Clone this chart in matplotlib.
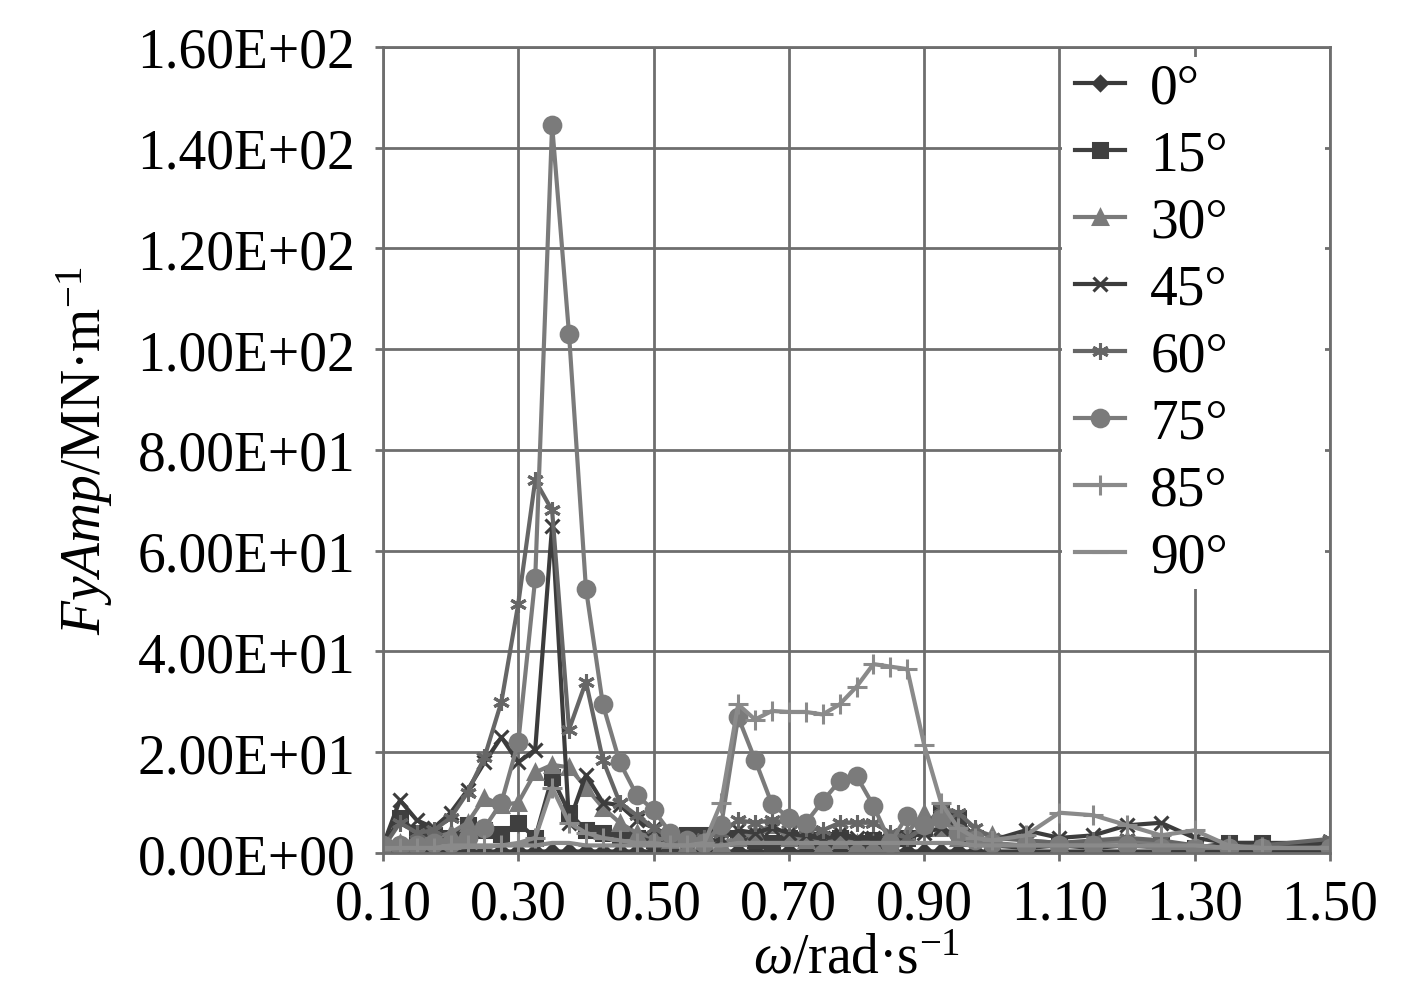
import numpy as np
import matplotlib
matplotlib.use("Agg")
import matplotlib.pyplot as plt
from matplotlib.ticker import FuncFormatter, MultipleLocator, FixedLocator
from matplotlib.patches import Rectangle

plt.rcParams['font.family'] = ['Liberation Serif', 'DejaVu Serif']
plt.rcParams['mathtext.fontset'] = 'custom'
plt.rcParams['mathtext.rm'] = 'Liberation Serif'
plt.rcParams['mathtext.it'] = 'Liberation Serif:italic'

#### data ####
omega = [0.100, 0.125, 0.150, 0.175, 0.200, 0.225, 0.250, 0.275, 0.300, 0.325,
         0.350, 0.375, 0.400, 0.425, 0.450, 0.475, 0.500, 0.525, 0.550, 0.575,
         0.600, 0.625, 0.650, 0.675, 0.700, 0.725, 0.750, 0.775, 0.800, 0.825,
         0.850, 0.875, 0.900, 0.925, 0.950, 0.975, 1.000, 1.05, 1.10, 1.15,
         1.20, 1.25, 1.30, 1.35, 1.40, 1.50]
xticks = [0.10, 0.30, 0.50, 0.70, 0.90, 1.10, 1.30, 1.50]

labels = ['0°', '15°', '30°', '45°', '60°', '75°', '85°', '90°']

a0 = [0.4, 0.3, 0.3, 0.3, 0.3, 0.3, 0.3, 0.3, 0.3, 0.3,
      0.3, 0.3, 0.3, 0.3, 0.3, 0.3, 0.3, 0.3, 0.3, 0.3,
      0.3, 0.3, 0.3, 0.3, 0.3, 0.3, 0.3, 0.3, 0.3, 0.3,
      0.3, 0.3, 0.3, 0.3, 0.3, 0.3, 0.3, 0.3, 0.3, 0.3,
      0.3, 0.3, 0.3, 0.3, 0.3, 0.3]
a15 = [1.0, 7.0, 4.0, 3.5, 3.0, 5.5, 4.5, 3.8, 6.0, 3.0,
       15.0, 8.0, 4.5, 4.0, 3.0, 3.0, 2.5, 2.0, 3.5, 3.5,
       5.0, 3.0, 2.5, 2.0, 3.0, 2.5, 2.5, 3.0, 2.0, 2.5,
       2.0, 3.0, 5.0, 8.5, 7.0, 3.0, 1.5, 1.0, 1.5, 1.0,
       1.5, 2.0, 1.0, 2.0, 2.0, 1.0]
a30 = [1.0, 2.0, 2.5, 3.0, 4.0, 6.0, 11.0, 9.5, 10.0, 16.0,
       17.5, 17.0, 13.0, 9.0, 6.0, 4.0, 3.0, 2.5, 2.0, 2.5,
       2.0, 3.0, 4.0, 5.5, 3.0, 2.5, 2.0, 2.5, 2.0, 2.0,
       2.0, 4.0, 8.0, 5.0, 3.0, 4.5, 3.5, 2.5, 2.0, 2.0,
       2.5, 2.0, 1.5, 1.0, 1.0, 1.0]
a45 = [1.5, 10.5, 6.5, 5.0, 8.0, 12.5, 18.0, 23.0, 18.0, 20.5,
       65.0, 6.0, 15.5, 10.0, 9.5, 6.5, 5.0, 3.5, 2.5, 2.0,
       3.0, 4.5, 4.0, 5.0, 4.0, 3.5, 3.0, 4.0, 3.0, 3.0,
       2.5, 3.0, 4.0, 5.0, 3.5, 3.0, 2.5, 4.5, 3.0, 3.5,
       5.5, 6.0, 3.0, 2.0, 2.0, 2.0]
a60 = [1.0, 6.0, 4.0, 4.5, 7.0, 12.0, 19.0, 30.0, 49.5, 74.0,
       68.0, 24.5, 34.0, 18.5, 10.0, 7.5, 5.0, 3.0, 2.5, 3.0,
       4.0, 6.5, 6.0, 6.5, 6.0, 5.0, 4.5, 6.0, 6.0, 6.0,
       4.0, 3.0, 5.0, 9.0, 8.0, 5.0, 3.0, 2.5, 2.0, 2.5,
       3.0, 2.5, 1.5, 1.0, 1.5, 2.8]
a75 = [1.5, 1.5, 1.5, 2.0, 2.0, 3.0, 5.0, 10.0, 22.0, 54.5,
       144.5, 103.0, 52.5, 29.5, 18.0, 11.5, 8.5, 4.0, 2.5, 2.0,
       5.5, 27.0, 18.5, 9.7, 7.0, 6.0, 10.3, 14.3, 15.3, 9.4,
       2.0, 7.4, 5.5, 6.7, 4.0, 2.5, 2.0, 1.5, 1.5, 1.5,
       1.5, 1.0, 1.0, 1.0, 1.0, 1.0]
a85 = [1.0, 1.0, 1.0, 1.0, 1.5, 1.5, 1.5, 1.5, 2.0, 3.0,
       13.0, 6.0, 4.0, 3.0, 2.5, 2.0, 2.0, 1.5, 1.5, 2.0,
       10.0, 29.5, 26.5, 28.2, 28.0, 28.0, 27.5, 29.5, 33.0, 37.5,
       37.0, 36.5, 21.5, 10.0, 5.0, 3.0, 2.5, 3.5, 8.0, 7.5,
       5.5, 3.5, 4.5, 1.5, 1.0, 1.0]
a90 = [0.8, 1.0, 1.0, 1.0, 1.0, 1.2, 1.2, 1.5, 1.5, 1.5,
       2.0, 2.0, 1.5, 1.5, 1.5, 1.5, 1.5, 1.5, 1.5, 1.5,
       1.5, 2.0, 2.0, 2.0, 2.0, 2.0, 2.0, 2.0, 2.0, 2.0,
       2.0, 2.0, 2.0, 2.0, 2.0, 1.5, 1.5, 1.5, 1.5, 1.5,
       1.5, 1.5, 1.5, 1.0, 1.0, 1.0]
series = [a0, a15, a30, a45, a60, a75, a85, a90]

#### styles ####
colors = ['#3a3a3a', '#3f3f3f', '#7a7a7a', '#3c3c3c', '#666666', '#7b7b7b', '#8a8a8a', '#8a8a8a']
markers = ['D', 's', '^', 'x', (6, 2, 0), 'o', '+', '_']
msizes = [7, 10.5, 10.5, 10.5, 12, 12, 15, 11]

fig = plt.figure(figsize=(14.17, 10.04), dpi=100)
ax = fig.add_axes([0.2703, 0.1494, 0.6683, 0.8028])

for y, lab, c, m, ms in zip(series, labels, colors, markers, msizes):
    ax.plot(omega, y, color=c, lw=3.0, marker=m, ms=ms, mew=2.2,
            mfc=c, mec=c, label=lab)

ax.set_xlim(0.10, 1.50)
ax.set_ylim(0, 160)
ax.xaxis.set_major_locator(FixedLocator(xticks))
ax.yaxis.set_major_locator(MultipleLocator(20))
ax.xaxis.set_major_formatter(FuncFormatter(lambda v, p: f'{v:.2f}'))
ax.yaxis.set_major_formatter(FuncFormatter(lambda v, p: f'{v:.2E}'))
ax.grid(True, color='#6e6e6e', lw=2.0)
ax.set_axisbelow(True)
for s in ax.spines.values():
    s.set_color('#6e6e6e')
    s.set_linewidth(2.0)
ax.tick_params(axis='both', labelsize=40, color='#6e6e6e', width=2.0,
               length=6, direction='out')
ax.tick_params(axis='x', pad=12)
ax.tick_params(axis='y', pad=14)

ax.set_xlabel(r'$\mathit{\omega}$/rad·s$^{-1}$', fontsize=40, labelpad=2)
ax.set_ylabel(r'$\mathit{FyAmp}$/MN·m$^{-1}$', fontsize=40, labelpad=16)

# white legend area that hides the grid behind it
ax.add_patch(Rectangle((0.717, 0.328), 0.278, 0.66, transform=ax.transAxes,
                       facecolor='white', edgecolor='none', zorder=1))

leg = ax.legend(loc='upper left', bbox_to_anchor=(0.731, 0.981), fontsize=40,
                frameon=False, handlelength=0.9, handletextpad=0.45,
                labelspacing=0.27, borderpad=0.0, borderaxespad=0.0)

fig.savefig('out.png', dpi=100)
